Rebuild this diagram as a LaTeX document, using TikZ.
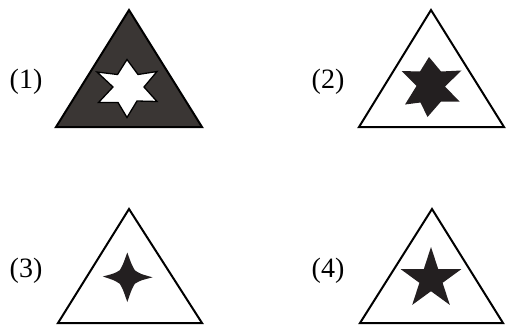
\documentclass[tikz,border=0pt]{standalone}
\usepackage{fontspec}
\setmainfont{Liberation Serif}
\begin{document}
\begin{tikzpicture}[x=1pt,y=-1pt,
  tri/.style={draw=black,line width=2pt,line join=miter},
  darktri/.style={tri,fill=darkfill},
  starfill/.style={fill=starblack,draw=none},
  holestar/.style={fill=white,draw=black,line width=1.3pt,line join=miter},
  lbl/.style={font=\fontsize{28}{30}\selectfont,inner sep=0pt}]
\definecolor{darkfill}{HTML}{3A3634}
\definecolor{starblack}{HTML}{231F20}
\useasboundingbox (0,0) rectangle (510,325);
% (1)
\node[lbl] (l1) at (26,82) {(1)};
\draw[darktri] (129,10) -- (202,127) -- (56,127) -- cycle;
\draw[holestar] (127,59.5) -- (138,74.5) -- (157,71.5) -- (144,87) -- (157,101.5)
  -- (137,101) -- (127,117.5) -- (118,102.5) -- (98.5,102.5) -- (113,87)
  -- (97,72) -- (117.5,74.5) -- cycle;
% (2)
\node[lbl] (l2) at (328,82) {(2)};
\draw[tri] (431,10) -- (504,127) -- (359,127) -- cycle;
\fill[starfill] (429,57) -- (441,71.5) -- (461.5,70.5) -- (445,86.5) -- (459.5,101.5)
  -- (441,101.5) -- (427.5,117) -- (420.5,102.5) -- (405,104.5) -- (416.5,86)
  -- (401.5,71) -- (420,71.5) -- cycle;
% (3)
\node[lbl] (l3) at (26,271) {(3)};
\draw[tri] (129,209) -- (202,323) -- (58,323) -- cycle;
\fill[starfill] (127.3,252.5) .. controls (131.8,265) .. (134.8,270.2)
  .. controls (140,273.8) .. (152.5,277.3)
  .. controls (140,280.6) .. (134.8,283.8)
  .. controls (131.8,289) .. (127.3,302)
  .. controls (122.8,289) .. (119.8,283.8)
  .. controls (114.6,280.4) .. (102.8,276.5)
  .. controls (114.6,273.4) .. (119.8,270.2)
  .. controls (122.8,265) .. (127.3,252.5) -- cycle;
% (4)
\node[lbl] (l4) at (328,271) {(4)};
\draw[tri] (432,209) -- (503,323) -- (360,323) -- cycle;
\fill[starfill] (431,247) -- (438.2,269.1) -- (461.4,269.1) -- (442.6,282.8)
  -- (449.8,304.9) -- (431,291.2) -- (412.2,304.9) -- (419.4,282.8)
  -- (400.6,269.1) -- (423.8,269.1) -- cycle;
\end{tikzpicture}
\end{document}
